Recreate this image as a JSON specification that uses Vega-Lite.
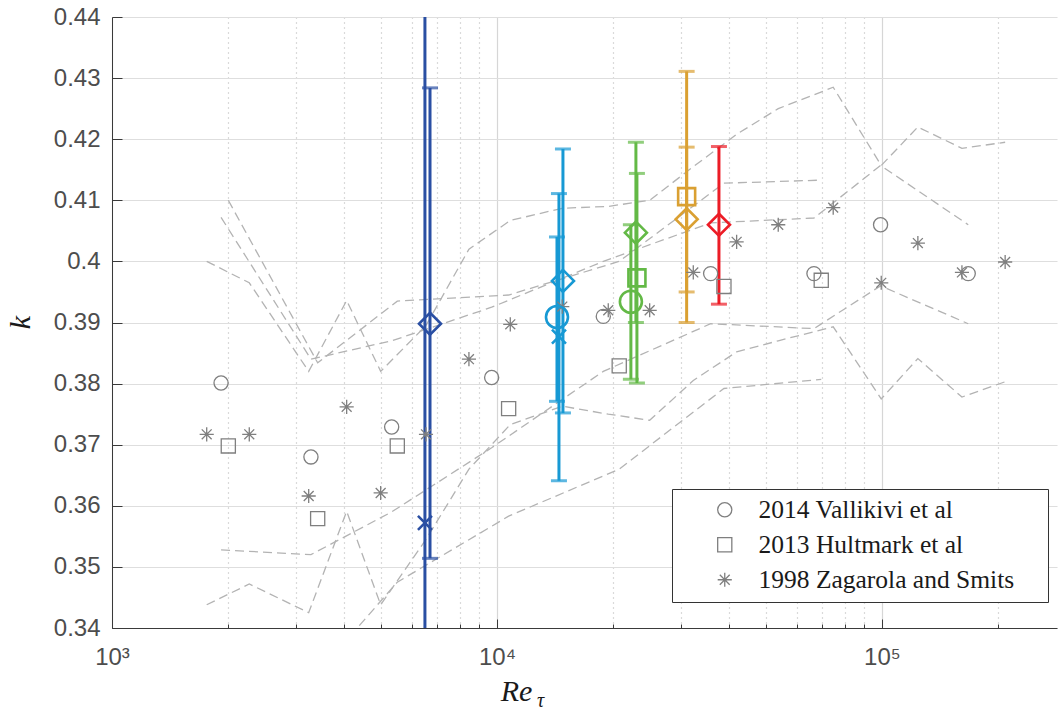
{
  "$schema": "https://vega.github.io/schema/vega-lite/v6.json",
  "width": 945,
  "height": 611,
  "autosize": {"type": "none"},
  "padding": {"left": 112, "top": 17, "right": 1, "bottom": 87},
  "background": "white",
  "config": {
    "view": {"stroke": null},
    "axis": {
      "labelFont": "Liberation Sans",
      "labelFontSize": 24,
      "labelColor": "#4d4d4d",
      "domainColor": "#3a3a3a",
      "tickColor": "#3a3a3a",
      "titleFont": "Liberation Serif",
      "titleFontStyle": "italic",
      "titleFontWeight": "normal",
      "titleColor": "#1a1a1a"
    },
    "legend": {
      "orient": "none",
      "legendX": 560,
      "legendY": 472,
      "strokeColor": "#333333",
      "fillColor": "white",
      "padding": 8,
      "labelFont": "Liberation Serif",
      "labelFontSize": 25.5,
      "labelColor": "#1a1a1a",
      "labelLimit": 0,
      "symbolStrokeColor": "#7f7f7f",
      "symbolFillColor": "transparent",
      "symbolStrokeWidth": 1.3,
      "symbolSize": 200,
      "symbolOffset": 32,
      "labelOffset": 21,
      "rowPadding": 8
    }
  },
  "datasets": {
    "pts": [
      {"src": "2014 Vallikivi et al", "x": 1920, "y": 0.3801},
      {"src": "2014 Vallikivi et al", "x": 3287, "y": 0.368},
      {"src": "2014 Vallikivi et al", "x": 5327, "y": 0.3729},
      {"src": "2014 Vallikivi et al", "x": 9688, "y": 0.381},
      {"src": "2014 Vallikivi et al", "x": 18890, "y": 0.391},
      {"src": "2014 Vallikivi et al", "x": 35900, "y": 0.398},
      {"src": "2014 Vallikivi et al", "x": 66600, "y": 0.398},
      {"src": "2014 Vallikivi et al", "x": 99200, "y": 0.406},
      {"src": "2014 Vallikivi et al", "x": 167600, "y": 0.398},
      {"src": "2013 Hultmark et al", "x": 2005, "y": 0.3698},
      {"src": "2013 Hultmark et al", "x": 3422, "y": 0.3579},
      {"src": "2013 Hultmark et al", "x": 5509, "y": 0.3698},
      {"src": "2013 Hultmark et al", "x": 10723, "y": 0.3759},
      {"src": "2013 Hultmark et al", "x": 20780, "y": 0.3829},
      {"src": "2013 Hultmark et al", "x": 38870, "y": 0.3959},
      {"src": "2013 Hultmark et al", "x": 69570, "y": 0.3969},
      {"src": "1998 Zagarola and Smits", "x": 1762, "y": 0.3717},
      {"src": "1998 Zagarola and Smits", "x": 2273, "y": 0.3717},
      {"src": "1998 Zagarola and Smits", "x": 3243, "y": 0.3616},
      {"src": "1998 Zagarola and Smits", "x": 4070, "y": 0.3762},
      {"src": "1998 Zagarola and Smits", "x": 4988, "y": 0.3621},
      {"src": "1998 Zagarola and Smits", "x": 6541, "y": 0.3717},
      {"src": "1998 Zagarola and Smits", "x": 8457, "y": 0.384},
      {"src": "1998 Zagarola and Smits", "x": 10830, "y": 0.3897},
      {"src": "1998 Zagarola and Smits", "x": 14780, "y": 0.3926},
      {"src": "1998 Zagarola and Smits", "x": 19460, "y": 0.392},
      {"src": "1998 Zagarola and Smits", "x": 24930, "y": 0.392},
      {"src": "1998 Zagarola and Smits", "x": 32360, "y": 0.3982},
      {"src": "1998 Zagarola and Smits", "x": 41940, "y": 0.4032},
      {"src": "1998 Zagarola and Smits", "x": 53790, "y": 0.406},
      {"src": "1998 Zagarola and Smits", "x": 74730, "y": 0.4088},
      {"src": "1998 Zagarola and Smits", "x": 99600, "y": 0.3965},
      {"src": "1998 Zagarola and Smits", "x": 124000, "y": 0.403},
      {"src": "1998 Zagarola and Smits", "x": 161400, "y": 0.3982},
      {"src": "1998 Zagarola and Smits", "x": 209000, "y": 0.3999}
    ],
    "col": [
      {"grp": "b1", "mk": "x", "x": 6500, "y": 0.3572, "lo": 0.3, "hi": 0.48},
      {"grp": "b1", "mk": "d", "x": 6700, "y": 0.3898, "lo": 0.3514, "hi": 0.4284},
      {"grp": "b2", "mk": "o", "x": 14320, "y": 0.3909, "lo": 0.3771, "hi": 0.404},
      {"grp": "b2", "mk": "x", "x": 14490, "y": 0.3877, "lo": 0.3641, "hi": 0.4111},
      {"grp": "b2", "mk": "d", "x": 14840, "y": 0.3968, "lo": 0.3752, "hi": 0.4184},
      {"grp": "g", "mk": "o", "x": 22280, "y": 0.3934, "lo": 0.3807, "hi": 0.406},
      {"grp": "g", "mk": "d", "x": 22960, "y": 0.4047, "lo": 0.39, "hi": 0.4195},
      {"grp": "g", "mk": "s", "x": 23100, "y": 0.3973, "lo": 0.3801, "hi": 0.4144},
      {"grp": "o", "mk": "s", "x": 31100, "y": 0.4106, "lo": 0.39, "hi": 0.4311},
      {"grp": "o", "mk": "d", "x": 31100, "y": 0.4069, "lo": 0.395, "hi": 0.4187},
      {"grp": "r", "mk": "d", "x": 37730, "y": 0.406, "lo": 0.393, "hi": 0.4188}
    ],
    "lines": [
      {"id": "V_up", "x": 1920, "y": 0.4072}, {"id": "V_up", "x": 3287, "y": 0.384}, {"id": "V_up", "x": 5327, "y": 0.387}, {"id": "V_up", "x": 9688, "y": 0.3925}, {"id": "V_up", "x": 18890, "y": 0.4}, {"id": "V_up", "x": 35900, "y": 0.4063}, {"id": "V_up", "x": 66600, "y": 0.4071}, {"id": "V_up", "x": 99200, "y": 0.4157}, {"id": "V_up", "x": 167600, "y": 0.406},
      {"id": "V_lo", "x": 1920, "y": 0.3528}, {"id": "V_lo", "x": 3287, "y": 0.352}, {"id": "V_lo", "x": 5327, "y": 0.359}, {"id": "V_lo", "x": 9688, "y": 0.3695}, {"id": "V_lo", "x": 18890, "y": 0.382}, {"id": "V_lo", "x": 35900, "y": 0.3898}, {"id": "V_lo", "x": 66600, "y": 0.389}, {"id": "V_lo", "x": 99200, "y": 0.396}, {"id": "V_lo", "x": 167600, "y": 0.3898},
      {"id": "H_up", "x": 2005, "y": 0.41}, {"id": "H_up", "x": 3422, "y": 0.3834}, {"id": "H_up", "x": 5509, "y": 0.3935}, {"id": "H_up", "x": 10723, "y": 0.3945}, {"id": "H_up", "x": 20780, "y": 0.4}, {"id": "H_up", "x": 38870, "y": 0.4128}, {"id": "H_up", "x": 69570, "y": 0.4133},
      {"id": "H_lo", "x": 2005, "y": 0.33}, {"id": "H_lo", "x": 3422, "y": 0.3326}, {"id": "H_lo", "x": 5509, "y": 0.3475}, {"id": "H_lo", "x": 10723, "y": 0.3583}, {"id": "H_lo", "x": 20780, "y": 0.366}, {"id": "H_lo", "x": 38870, "y": 0.3792}, {"id": "H_lo", "x": 69570, "y": 0.3807},
      {"id": "Z_up", "x": 1762, "y": 0.4}, {"id": "Z_up", "x": 2273, "y": 0.3965}, {"id": "Z_up", "x": 3243, "y": 0.382}, {"id": "Z_up", "x": 4070, "y": 0.3936}, {"id": "Z_up", "x": 4988, "y": 0.382}, {"id": "Z_up", "x": 6541, "y": 0.3895}, {"id": "Z_up", "x": 8457, "y": 0.402}, {"id": "Z_up", "x": 10830, "y": 0.4067}, {"id": "Z_up", "x": 14780, "y": 0.4087}, {"id": "Z_up", "x": 19460, "y": 0.409}, {"id": "Z_up", "x": 24930, "y": 0.41}, {"id": "Z_up", "x": 32360, "y": 0.4155}, {"id": "Z_up", "x": 41940, "y": 0.4208}, {"id": "Z_up", "x": 53790, "y": 0.425}, {"id": "Z_up", "x": 74730, "y": 0.4285}, {"id": "Z_up", "x": 99600, "y": 0.4157}, {"id": "Z_up", "x": 124000, "y": 0.422}, {"id": "Z_up", "x": 161400, "y": 0.4185}, {"id": "Z_up", "x": 209000, "y": 0.4195},
      {"id": "Z_lo", "x": 1762, "y": 0.3438}, {"id": "Z_lo", "x": 2273, "y": 0.3472}, {"id": "Z_lo", "x": 3243, "y": 0.3425}, {"id": "Z_lo", "x": 4070, "y": 0.3591}, {"id": "Z_lo", "x": 4988, "y": 0.3438}, {"id": "Z_lo", "x": 6541, "y": 0.3545}, {"id": "Z_lo", "x": 8457, "y": 0.366}, {"id": "Z_lo", "x": 10830, "y": 0.3733}, {"id": "Z_lo", "x": 14780, "y": 0.3763}, {"id": "Z_lo", "x": 19460, "y": 0.375}, {"id": "Z_lo", "x": 24930, "y": 0.374}, {"id": "Z_lo", "x": 32360, "y": 0.3805}, {"id": "Z_lo", "x": 41940, "y": 0.3852}, {"id": "Z_lo", "x": 53790, "y": 0.387}, {"id": "Z_lo", "x": 74730, "y": 0.3893}, {"id": "Z_lo", "x": 99600, "y": 0.3775}, {"id": "Z_lo", "x": 124000, "y": 0.3841}, {"id": "Z_lo", "x": 161400, "y": 0.3778}, {"id": "Z_lo", "x": 209000, "y": 0.3803}
    ]
  },
  "layer": [
    {
      "layer": [
        {
          "data": {"name": "lines"},
          "mark": {"type": "line", "strokeDash": [9, 5], "stroke": "#b3b3b3", "strokeWidth": 1.3, "clip": true},
          "encoding": {
            "x": {
              "field": "x", "type": "quantitative",
              "scale": {"type": "log", "domain": [1000, 285000], "nice": false},
              "axis": {
                "values": [1000, 2000, 3000, 4000, 5000, 6000, 7000, 8000, 9000, 10000, 20000, 30000, 40000, 50000, 60000, 70000, 80000, 90000, 100000, 200000],
                "labelExpr": "datum.value == 1000 ? '10³' : datum.value == 10000 ? '10⁴' : datum.value == 100000 ? '10⁵' : ''",
                "labelFlush": false,
                "labelOverlap": false,
                "labelPadding": 26,
                "grid": true,
                "gridColor": {"condition": {"test": "datum.value == 1000 || datum.value == 10000 || datum.value == 100000", "value": "#d6d6d6"}, "value": "#b5b5b5"},
                "gridDash": {"condition": {"test": "datum.value == 1000 || datum.value == 10000 || datum.value == 100000", "value": []}, "value": [1, 4]},
                "gridWidth": 1.2,
                "tickSize": {"condition": {"test": "datum.value == 1000 || datum.value == 10000 || datum.value == 100000", "value": -9}, "value": -4},
                "title": "Re",
                "titleFontSize": 30,
                "titleX": 404,
                "titleY": 72,
                "titleBaseline": "alphabetic",
                "titleAlign": "center"
              }
            },
            "y": {
              "field": "y", "type": "quantitative",
              "scale": {"domain": [0.34, 0.44], "nice": false},
              "axis": {
                "values": [0.34, 0.35, 0.36, 0.37, 0.38, 0.39, 0.4, 0.41, 0.42, 0.43, 0.44],
                "format": "~g",
                "labelFlush": false,
                "labelOverlap": false,
                "labelPadding": 22,
                "grid": true,
                "gridColor": "#dedede",
                "gridWidth": 1.2,
                "tickSize": -10,
                "title": "k",
                "titleFontSize": 30,
                "titleAngle": -90,
                "titleX": -83,
                "titleY": 305,
                "titleBaseline": "alphabetic",
                "titleAlign": "center"
              }
            },
            "detail": {"field": "id"}
          }
        },
        {
          "data": {"name": "col"},
          "mark": {"type": "rule", "strokeWidth": 3, "clip": true},
          "encoding": {
            "x": {"field": "x", "type": "quantitative"},
            "y": {"field": "lo", "type": "quantitative"},
            "y2": {"field": "hi"},
            "color": {"field": "grp", "type": "nominal", "scale": {"domain": ["b1", "b2", "g", "o", "r"], "range": ["#2a4fa3", "#1799d4", "#63b946", "#daa032", "#ec1c26"]}, "legend": null}
          }
        },
        {
          "data": {"name": "col"},
          "mark": {"type": "tick", "orient": "horizontal", "size": 16, "thickness": 3, "clip": true},
          "encoding": {
            "x": {"field": "x", "type": "quantitative"},
            "y": {"field": "lo", "type": "quantitative"},
            "color": {"field": "grp", "type": "nominal", "legend": null}
          }
        },
        {
          "data": {"name": "col"},
          "mark": {"type": "tick", "orient": "horizontal", "size": 16, "thickness": 3, "clip": true},
          "encoding": {
            "x": {"field": "x", "type": "quantitative"},
            "y": {"field": "hi", "type": "quantitative"},
            "color": {"field": "grp", "type": "nominal", "legend": null}
          }
        },
        {
          "data": {"name": "pts"},
          "mark": {"type": "point", "filled": false, "strokeWidth": 1.3, "color": "#7f7f7f", "size": 200, "opacity": 1},
          "encoding": {
            "x": {"field": "x", "type": "quantitative"},
            "y": {"field": "y", "type": "quantitative"},
            "shape": {
              "field": "src", "type": "nominal",
              "scale": {"domain": ["2014 Vallikivi et al", "2013 Hultmark et al", "1998 Zagarola and Smits"], "range": ["circle", "square", "M0,-1L0,1M-1,0L1,0M-0.7,-0.7L0.7,0.7M-0.7,0.7L0.7,-0.7"]},
              "legend": {"title": null, "labelExpr": "datum.label + '\u00a0\u00a0\u00a0\u00a0\u200b'"}
            }
          }
        },
        {
          "data": {"name": "col"},
          "transform": [{"filter": "datum.mk == 'o'"}],
          "mark": {"type": "point", "shape": "circle", "size": 484, "strokeWidth": 2.6, "filled": false, "opacity": 1},
          "encoding": {
            "x": {"field": "x", "type": "quantitative"},
            "y": {"field": "y", "type": "quantitative"},
            "color": {"field": "grp", "type": "nominal", "legend": null}
          }
        },
        {
          "data": {"name": "col"},
          "transform": [{"filter": "datum.mk == 'd'"}],
          "mark": {"type": "point", "shape": "M0,-1L1,0L0,1L-1,0Z", "size": 484, "strokeWidth": 2.6, "filled": false, "opacity": 1},
          "encoding": {
            "x": {"field": "x", "type": "quantitative"},
            "y": {"field": "y", "type": "quantitative"},
            "color": {"field": "grp", "type": "nominal", "legend": null}
          }
        },
        {
          "data": {"name": "col"},
          "transform": [{"filter": "datum.mk == 's'"}],
          "mark": {"type": "point", "shape": "square", "size": 289, "strokeWidth": 2.6, "filled": false, "opacity": 1},
          "encoding": {
            "x": {"field": "x", "type": "quantitative"},
            "y": {"field": "y", "type": "quantitative"},
            "color": {"field": "grp", "type": "nominal", "legend": null}
          }
        },
        {
          "data": {"name": "col"},
          "transform": [{"filter": "datum.mk == 'x'"}],
          "mark": {"type": "point", "shape": "M-1,-1L1,1M-1,1L1,-1", "size": 196, "strokeWidth": 2.6, "filled": false, "opacity": 1},
          "encoding": {
            "x": {"field": "x", "type": "quantitative"},
            "y": {"field": "y", "type": "quantitative"},
            "color": {"field": "grp", "type": "nominal", "legend": null}
          }
        }
      ]
    },
    {
      "data": {"name": "col"},
      "mark": {"type": "rule", "opacity": 0},
      "encoding": {
        "x": {
          "field": "x", "type": "quantitative",
          "axis": {
            "orient": "bottom",
            "labels": false, "ticks": false, "domain": false, "grid": false,
            "title": "τ",
            "titleFontSize": 20,
            "titleX": 428,
            "titleY": 78,
            "titleBaseline": "alphabetic",
            "titleAlign": "center"
          }
        }
      }
    }
  ],
  "resolve": {"axis": {"x": "independent"}}
}
